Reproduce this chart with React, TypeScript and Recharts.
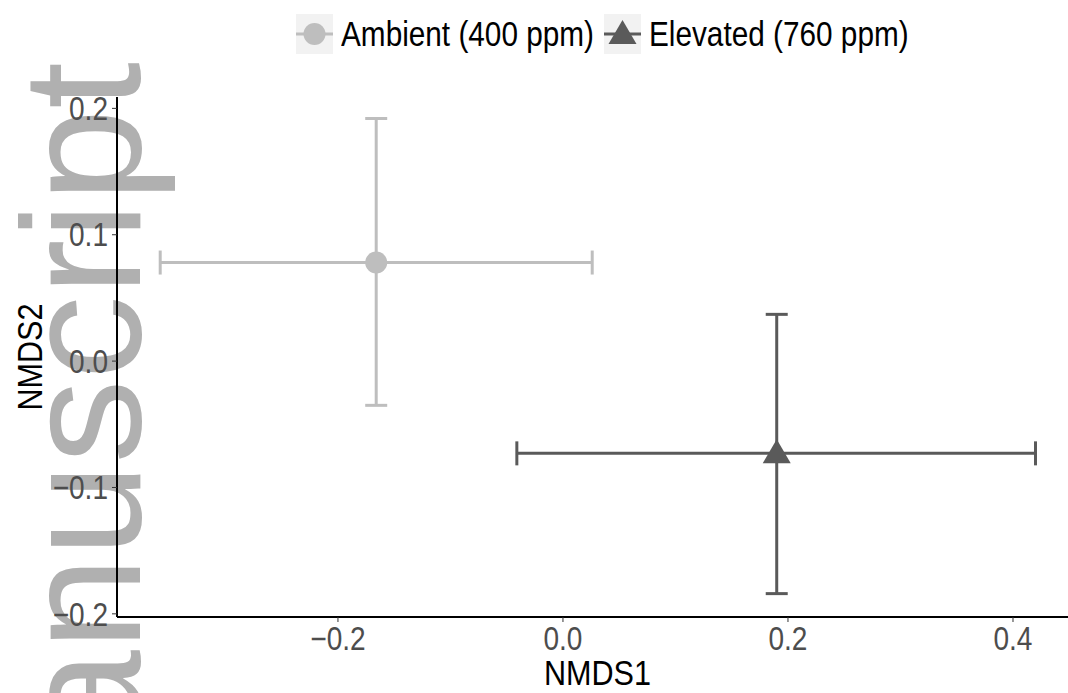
import React from "react";
import { ScatterChart, Scatter, XAxis, YAxis, ErrorBar } from "recharts";

// NMDS centroids with error bars
const groups = ["Ambient (400 ppm)", "Elevated (760 ppm)"];
const nmds1 = [-0.166, 0.19];
const nmds2 = [0.078, -0.073];
const nmds1Low = [-0.358, -0.041];
const nmds1High = [0.026, 0.42];
const nmds2Low = [-0.035, -0.184];
const nmds2High = [0.192, 0.037];
const xTicks = [-0.2, 0, 0.2, 0.4];
const yTicks = [-0.2, -0.1, 0, 0.1, 0.2];

const colors = ["#BEBEBE", "#5A5A5A"];
const FONT = "'Liberation Sans', Arial, Helvetica, sans-serif";
const SQUEEZE = 0.85; // the original type is a narrow Helvetica

const W = 1068;
const H = 693;

const fmt = (v: number) => (v < 0 ? "\u2212" : "") + Math.abs(v).toFixed(1);

const series = groups.map((g, i) => [
  {
    x: nmds1[i],
    y: nmds2[i],
    ex: [nmds1[i] - nmds1Low[i], nmds1High[i] - nmds1[i]],
    ey: [nmds2[i] - nmds2Low[i], nmds2High[i] - nmds2[i]],
  },
]);

const Dot = (props: any) => (
  <circle cx={props.cx} cy={props.cy} r={11} fill={colors[0]} />
);

const Tri = (props: any) => {
  const { cx, cy } = props;
  return (
    <path
      d={`M${cx},${cy - 14}L${cx + 14},${cy + 10}L${cx - 14},${cy + 10}Z`}
      fill={colors[1]}
    />
  );
};

const XTick = (props: any) => (
  <text
    transform={`translate(${props.x},${props.y + 3}) scale(${SQUEEZE},1)`}
    textAnchor="middle"
    dy="0.71em"
    fontSize={33}
    fontFamily={FONT}
    fill="#4D4D4D"
  >
    {fmt(props.payload.value)}
  </text>
);

const YTick = (props: any) => (
  <text
    transform={`translate(${props.x - 2},${props.y}) scale(${SQUEEZE},1)`}
    textAnchor="end"
    dy="0.355em"
    fontSize={33}
    fontFamily={FONT}
    fill="#4D4D4D"
  >
    {fmt(props.payload.value)}
  </text>
);

function LegendKey({ idx }: { idx: number }) {
  return (
    <svg width={37} height={40} style={{ background: "#F2F2F2", display: "block" }}>
      <line x1={0} x2={37} y1={20} y2={20} stroke={colors[idx]} strokeWidth={3} />
      {idx === 0 ? (
        <circle cx={18.5} cy={20} r={11} fill={colors[0]} />
      ) : (
        <path d="M18.5,6L32.5,30L4.5,30Z" fill={colors[1]} />
      )}
    </svg>
  );
}

function Watermark() {
  return (
    <svg width={W} height={H} style={{ position: "absolute", left: 0, top: 0 }}>
      <text
        transform="translate(140,62) rotate(-90)"
        textAnchor="end"
        fontFamily={FONT}
        fontSize={168}
        fill="#B0B0B0"
      >
        Manuscript
      </text>
    </svg>
  );
}

export default function App() {
  return (
    <div style={{ position: "absolute", left: 0, top: 0, width: W, height: H, background: "#fff", overflow: "hidden" }}>
      <Watermark />
      <div style={{ position: "absolute", left: 0, top: 0 }}>
        <ScatterChart
          width={W}
          height={H}
          margin={{ top: 97, right: 0, bottom: 0, left: 57 }}
        >
          <XAxis
            type="number"
            dataKey="x"
            domain={[-0.3964, 0.4489]}
            allowDataOverflow
            ticks={xTicks}
            height={76}
            axisLine={{ stroke: "#000", strokeWidth: 2 }}
            tickLine={{ stroke: "#333" }}
            tickSize={5}
            tick={<XTick />}
            label={{
              content: (p: any) => {
                const vb = p.viewBox;
                return (
                  <text
                    transform={`translate(${vb.x + vb.width / 2 + 5},685) scale(${SQUEEZE},1)`}
                    textAnchor="middle"
                    fontSize={36}
                    fontFamily={FONT}
                    fill="#000"
                  >
                    NMDS1
                  </text>
                );
              },
            }}
          />
          <YAxis
            type="number"
            dataKey="y"
            domain={[-0.2025, 0.209]}
            allowDataOverflow
            ticks={yTicks}
            width={60}
            axisLine={{ stroke: "#000", strokeWidth: 2 }}
            tickLine={{ stroke: "#333" }}
            tickSize={5}
            tick={<YTick />}
            label={{
              content: (p: any) => {
                const vb = p.viewBox;
                const cy = vb.y + vb.height / 2;
                return (
                  <text
                    transform={`translate(29,${cy}) rotate(-90) scale(${SQUEEZE},1)`}
                    textAnchor="middle"
                    dy="0.355em"
                    fontSize={36}
                    fontFamily={FONT}
                    fill="#000"
                  >
                    NMDS2
                  </text>
                );
              },
            }}
          />
          {series.map((d, i) => (
            <Scatter
              key={groups[i]}
              name={groups[i]}
              data={d}
              fill={colors[i]}
              shape={i === 0 ? Dot : Tri}
              isAnimationActive={false}
            >
              <ErrorBar dataKey="ex" direction="x" width={12} stroke={colors[i]} strokeWidth={3} />
              <ErrorBar dataKey="ey" direction="y" width={11} stroke={colors[i]} strokeWidth={3} />
            </Scatter>
          ))}
        </ScatterChart>
      </div>
      <div
        style={{
          position: "absolute",
          left: 296,
          top: 14,
          display: "flex",
          alignItems: "center",
          fontFamily: FONT,
          fontSize: 35,
          lineHeight: "40px",
          color: "#000",
          whiteSpace: "nowrap",
        }}
      >
        {groups.map((g, i) => (
          <div key={g} style={{ display: "flex", alignItems: "center", marginRight: 8 }}>
            <LegendKey idx={i} />
            <span
              style={{
                marginLeft: 8,
                display: "inline-block",
                transform: `scaleX(${SQUEEZE})`,
                transformOrigin: "left center",
                width: i === 0 ? 255 : 251,
              }}
            >
              {g}
            </span>
          </div>
        ))}
      </div>
    </div>
  );
}
